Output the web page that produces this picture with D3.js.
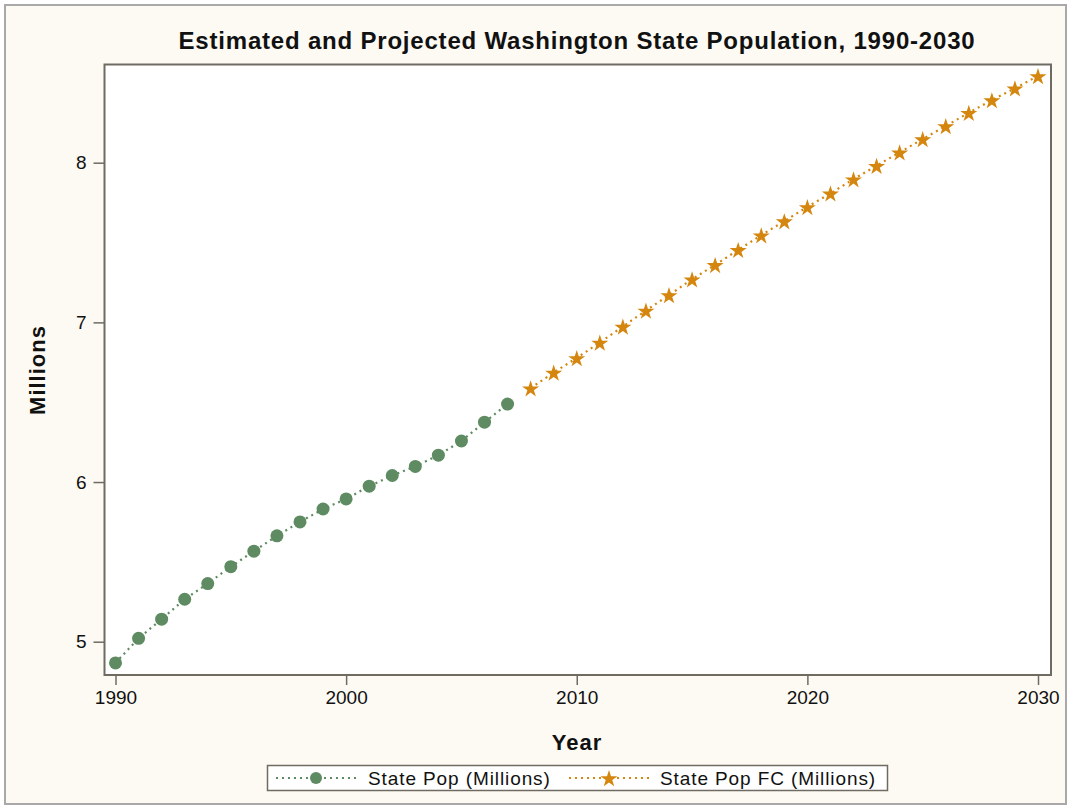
<!DOCTYPE html>
<html>
<head>
<meta charset="utf-8">
<title>Estimated and Projected Washington State Population</title>
<script src="https://d3js.org/d3.v7.min.js"></script>
<style>
body { margin: 0; background: #ffffff; }
text { font-family: "Liberation Sans", Arial, sans-serif; fill: #111; }
.axis path, .axis line { stroke: #6f6b62; stroke-width: 1.5px; }
.axis text { font-size: 19px; font-family: "Liberation Sans", Arial, sans-serif; fill: #111; }
</style>
</head>
<body>
<div id="chart"></div>
<script>
// estimated years / values (millions)
var estYears = [1990,1991,1992,1993,1994,1995,1996,1997,1998,1999,2000,2001,2002,2003,2004,2005,2006,2007];
var estPop = [4.867,5.021,5.141,5.266,5.364,5.470,5.567,5.663,5.750,5.831,5.894,5.974,6.041,6.098,6.168,6.257,6.375,6.488];

// projected
var fcYears = [2008,2009,2010,2011,2012,2013,2014,2015,2016,2017,2018,2019,2020,2021,2022,2023,2024,2025,2026,2027,2028,2029,2030];
var fcPop = [6.588,6.686,6.777,6.874,6.974,7.074,7.171,7.270,7.360,7.454,7.546,7.634,7.723,7.808,7.897,7.981,8.065,8.148,8.230,8.313,8.392,8.466,8.543];

var xTicks = [1990, 2000, 2010, 2020, 2030];
var yTicks = [5, 6, 7, 8];

var green = "#5e8b61", orange = "#d4860e";

var W = 1070, H = 807;
var plot = {left: 104.5, top: 64.5, right: 1051, bottom: 675};

var svg = d3.select("#chart").append("svg")
    .attr("width", W).attr("height", H);

// page background + outer frame
svg.append("rect").attr("width", W).attr("height", H).attr("fill", "#ffffff");
svg.append("rect")
    .attr("x", 5).attr("y", 5).attr("width", W - 9).attr("height", H - 8)
    .attr("fill", "#fdfaf3").attr("stroke", "#a9a9a9").attr("stroke-width", 2);

var x = d3.scaleLinear().domain([1990, 2030]).range([115.5, 1038]);
var y = d3.scaleLinear().domain([5, 8]).range([641.7, 162.7]);

// plot area
svg.append("rect")
    .attr("x", plot.left).attr("y", plot.top)
    .attr("width", plot.right - plot.left).attr("height", plot.bottom - plot.top)
    .attr("fill", "#ffffff").attr("stroke", "#6f6b62").attr("stroke-width", 2);

// axes
var xAxis = svg.append("g").attr("class", "axis")
    .attr("transform", "translate(0," + plot.bottom + ")")
    .call(d3.axisBottom(x).tickValues(xTicks).tickFormat(d3.format("d")).tickSize(10).tickSizeOuter(0).tickPadding(6));
xAxis.select(".domain").remove();

var yAxis = svg.append("g").attr("class", "axis")
    .attr("transform", "translate(" + plot.left + ",0)")
    .call(d3.axisLeft(y).tickValues(yTicks).tickFormat(d3.format("d")).tickSize(11).tickSizeOuter(0).tickPadding(7));
yAxis.select(".domain").remove();

// title and axis labels
svg.append("text")
    .attr("x", 577).attr("y", 49)
    .attr("text-anchor", "middle")
    .style("font-size", "24px").style("font-weight", "bold").style("letter-spacing", "0.8px")
    .text("Estimated and Projected Washington State Population, 1990-2030");

svg.append("text")
    .attr("x", 577).attr("y", 750)
    .attr("text-anchor", "middle")
    .style("font-size", "22px").style("font-weight", "bold").style("letter-spacing", "1px")
    .text("Year");

svg.append("text")
    .attr("transform", "translate(45,370) rotate(-90)")
    .attr("text-anchor", "middle")
    .style("font-size", "22px").style("font-weight", "bold").style("letter-spacing", "1px")
    .text("Millions");

// series
var est = estYears.map(function(d, i) { return {year: d, pop: estPop[i]}; });
var fc = fcYears.map(function(d, i) { return {year: d, pop: fcPop[i]}; });

var line = d3.line()
    .x(function(d) { return x(d.year); })
    .y(function(d) { return y(d.pop); });

svg.append("path").datum(est)
    .attr("d", line).attr("fill", "none")
    .attr("stroke", green).attr("stroke-width", 2.2).attr("stroke-dasharray", "2,4");

svg.append("path").datum(fc)
    .attr("d", line).attr("fill", "none")
    .attr("stroke", orange).attr("stroke-width", 2.2).attr("stroke-dasharray", "2,4");

svg.selectAll(".dot").data(est).enter().append("circle")
    .attr("cx", function(d) { return x(d.year); })
    .attr("cy", function(d) { return y(d.pop); })
    .attr("r", 6.5).attr("fill", green);

var star = d3.symbol().type(d3.symbolStar).size(90);
svg.selectAll(".star").data(fc).enter().append("path")
    .attr("d", star)
    .attr("transform", function(d) { return "translate(" + x(d.year) + "," + (y(d.pop) + 1) + ")"; })
    .attr("fill", orange);

// legend
var lg = svg.append("g");
lg.append("rect")
    .attr("x", 267.5).attr("y", 765.5).attr("width", 620).attr("height", 25)
    .attr("fill", "#ffffff").attr("stroke", "#6f6b62").attr("stroke-width", 1.5);

var items = [
  {label: "State Pop (Millions)", color: green, shape: "circle", x0: 276, tx: 368},
  {label: "State Pop FC (Millions)", color: orange, shape: "star", x0: 569, tx: 660}
];
items.forEach(function(it) {
  lg.append("line")
    .attr("x1", it.x0).attr("x2", it.x0 + 80).attr("y1", 778).attr("y2", 778)
    .attr("stroke", it.color).attr("stroke-width", 2.2).attr("stroke-dasharray", "2,4");
  if (it.shape === "circle") {
    lg.append("circle").attr("cx", it.x0 + 40).attr("cy", 778).attr("r", 6).attr("fill", it.color);
  } else {
    lg.append("path").attr("d", star)
      .attr("transform", "translate(" + (it.x0 + 40) + ",779)").attr("fill", it.color);
  }
  lg.append("text")
    .attr("x", it.tx).attr("y", 785)
    .style("font-size", "19px").style("letter-spacing", "0.9px")
    .text(it.label);
});
</script>
</body>
</html>
